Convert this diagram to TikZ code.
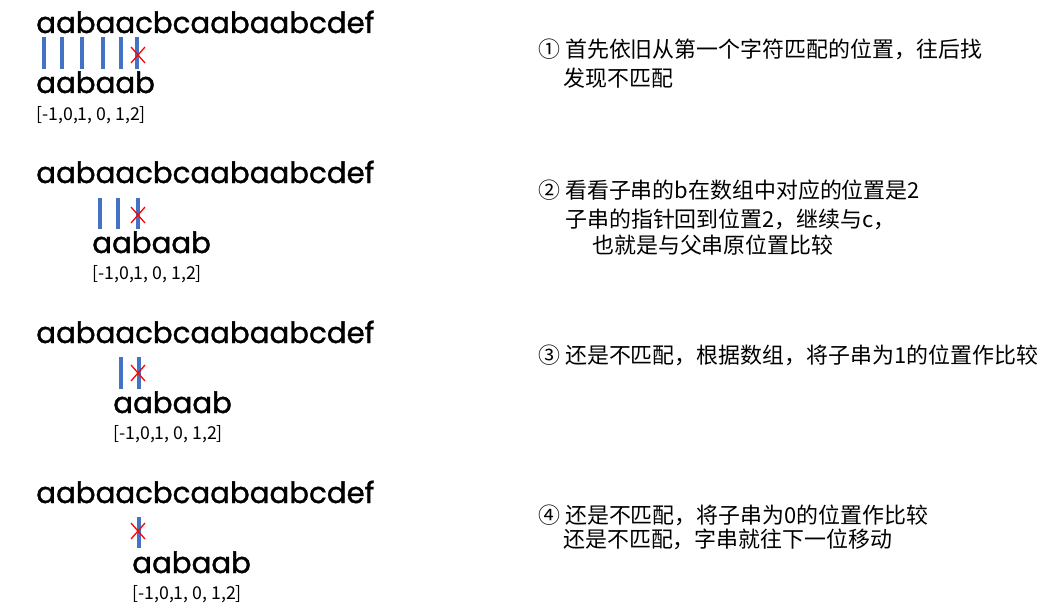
\documentclass[tikz,border=0pt]{standalone}
\usepackage{fontspec}
\usepackage{xcolor}
\usetikzlibrary{positioning}
\newfontfamily\cjk{Noto Sans CJK SC}
\newfontfamily\comic[FakeBold=1.2]{Poppins}
\definecolor{barblue}{RGB}{68,114,196}
\tikzset{
  mainstr/.style={
    anchor = base west,
    inner sep = 0pt,
    font = \comic\fontsize{20.8}{24}\selectfont
  },
  nextarr/.style={
    anchor = base west,
    inner sep = 0pt,
    font = \cjk\fontsize{12.6}{14}\selectfont
  },
  note/.style={
    anchor = base west,
    inner sep = 0pt,
    font = \cjk\fontsize{15.6}{18}\selectfont
  },
  bar/.style={
    draw = barblue,
    line width = 2.2pt
  },
  miss/.style={
    draw = red,
    line width = 0.9pt
  }
}

\begin{document}
\begin{tikzpicture}[x=0.025cm, y=-0.025cm]
    \useasboundingbox (0,0) rectangle (1062,611);
    \def\hw{7}
    \def\hh{8}
    % row 1
    \node[mainstr] (m1) at (36,33) {aabaacbcaabaabcdef};
    \foreach \bx in {44,62,82,103,121,137}
        \draw[bar] (\bx,37) -- (\bx,69);
    \draw[miss] (138-\hw,55-\hh) -- (138+\hw,55+\hh);
    \draw[miss] (138-\hw,55+\hh) -- (138+\hw,55-\hh);
    \node[mainstr] (s1) at (36,93) {aabaab};
    \node[nextarr] (n1) at (36,120) {[-1,0,1, 0, 1,2]};
    \node[note] (t1a) at (538,58) {① 首先依旧从第一个字符匹配的位置，往后找};
    \node[note] (t1b) at (563,87) {发现不匹配};
    % row 2
    \node[mainstr] (m2) at (36,183) {aabaacbcaabaabcdef};
    \foreach \bx in {100,118,138}
        \draw[bar] (\bx,198) -- (\bx,229);
    \draw[miss] (138-\hw,215-\hh) -- (138+\hw,215+\hh);
    \draw[miss] (138-\hw,215+\hh) -- (138+\hw,215-\hh);
    \node[mainstr] (s2) at (92,253) {aabaab};
    \node[nextarr] (n2) at (92,279) {[-1,0,1, 0, 1,2]};
    \node[note] (t2a) at (538,198) {② 看看子串的b在数组中对应的位置是2};
    \node[note] (t2b) at (565,227) {子串的指针回到位置2，继续与c，};
    \node[note] (t2c) at (592,253) {也就是与父串原位置比较};
    % row 3
    \node[mainstr] (m3) at (36,343) {aabaacbcaabaabcdef};
    \foreach \bx in {121,139}
        \draw[bar] (\bx,357) -- (\bx,389);
    \draw[miss] (138-\hw,373-\hh) -- (138+\hw,373+\hh);
    \draw[miss] (138-\hw,373+\hh) -- (138+\hw,373-\hh);
    \node[mainstr] (s3) at (113,413) {aabaab};
    \node[nextarr] (n3) at (113,439) {[-1,0,1, 0, 1,2]};
    \node[note] (t3a) at (538,363) {③ 还是不匹配，根据数组，将子串为1的位置作比较};
    % row 4
    \node[mainstr] (m4) at (36,503) {aabaacbcaabaabcdef};
    \draw[bar] (139,517) -- (139,548);
    \draw[miss] (138-\hw,531-\hh) -- (138+\hw,531+\hh);
    \draw[miss] (138-\hw,531+\hh) -- (138+\hw,531-\hh);
    \node[mainstr] (s4) at (132,573) {aabaab};
    \node[nextarr] (n4) at (132,599) {[-1,0,1, 0, 1,2]};
    \node[note] (t4a) at (538,523) {④ 还是不匹配，将子串为0的位置作比较};
    \node[note] (t4b) at (563,547) {还是不匹配，字串就往下一位移动};
\end{tikzpicture}
\end{document}
